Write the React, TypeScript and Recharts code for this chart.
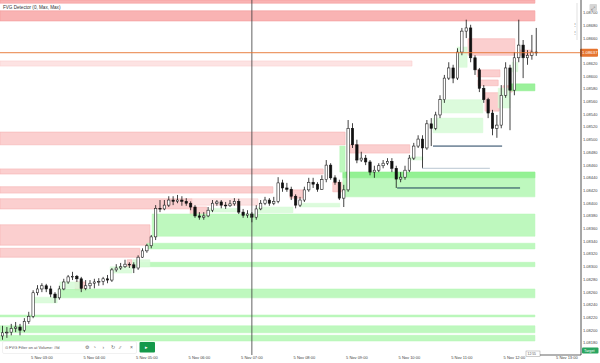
import React from 'react';
import { ComposedChart, Bar, XAxis, YAxis, ReferenceArea, ReferenceLine } from 'recharts';

// ---- candle data (5-minute bars, EUR/USD-like) ----
const opens = [
  1.08191, 1.08196, 1.08197, 1.08203, 1.08205, 1.082, 1.08214, 1.08222, 1.08259, 1.08265,
  1.0827, 1.08265, 1.08257, 1.08251, 1.08265, 1.08276, 1.08284, 1.08285, 1.08281, 1.08266,
  1.0827, 1.08274, 1.08276, 1.08277, 1.08281, 1.08279, 1.08295, 1.08298, 1.083, 1.08304,
  1.08303, 1.08298, 1.08315, 1.08325, 1.08333, 1.08347, 1.08392, 1.08391, 1.08397, 1.08405,
  1.08403, 1.08405, 1.08403, 1.084, 1.08394, 1.0838, 1.08378, 1.0838, 1.08389, 1.084,
  1.08402, 1.08397, 1.08396, 1.08399, 1.08403, 1.08386, 1.08381, 1.08383, 1.08378, 1.08391,
  1.084, 1.08405, 1.084, 1.08403, 1.08432, 1.08424, 1.08422, 1.08411, 1.08397, 1.08405,
  1.08421, 1.08433, 1.0843, 1.08422, 1.08437, 1.0846, 1.0844, 1.08433, 1.08408, 1.08421,
  1.08518, 1.08492, 1.08468, 1.08471, 1.08465, 1.08449, 1.08452, 1.08459, 1.08463, 1.08466,
  1.08455, 1.08438, 1.08441, 1.08452, 1.08471, 1.0849, 1.08501, 1.08487, 1.08525, 1.08518,
  1.08539, 1.08563, 1.08597, 1.08613, 1.08597, 1.08638, 1.08671, 1.08676, 1.08629, 1.0861,
  1.08581, 1.08563, 1.08542, 1.08518, 1.08523, 1.0857, 1.08613, 1.08578, 1.08629, 1.08649,
  1.08629, 1.08633, 1.08638,
];
const highs = [
  1.08207, 1.08205, 1.0821, 1.08213, 1.0821, 1.08219, 1.08229, 1.08263, 1.08271, 1.08274,
  1.08273, 1.0827, 1.0826, 1.0827, 1.08281, 1.08287, 1.08292, 1.08287, 1.08284, 1.08279,
  1.08279, 1.08281, 1.08282, 1.08284, 1.08287, 1.08298, 1.08304, 1.08306, 1.08311, 1.08307,
  1.08307, 1.08318, 1.08329, 1.08336, 1.0835, 1.08397, 1.08405, 1.08405, 1.08411, 1.08411,
  1.08413, 1.08411, 1.08408, 1.08403, 1.08397, 1.08386, 1.08386, 1.08394, 1.08405, 1.08405,
  1.08405, 1.08402, 1.08405, 1.08408, 1.08407, 1.08391, 1.08389, 1.08386, 1.08397, 1.08405,
  1.0841, 1.08408, 1.0841, 1.08441, 1.08437, 1.08432, 1.08426, 1.08414, 1.0841, 1.08426,
  1.0844, 1.0844, 1.08433, 1.08444, 1.08468, 1.08463, 1.08444, 1.08437, 1.08429, 1.08531,
  1.08526, 1.085, 1.08481, 1.08476, 1.08468, 1.08459, 1.08463, 1.08468, 1.08471, 1.08471,
  1.08459, 1.08449, 1.08459, 1.08476, 1.08495, 1.08507, 1.08507, 1.08531, 1.08534, 1.08544,
  1.0857, 1.08602, 1.08622, 1.08618, 1.08644, 1.08676, 1.08689, 1.08681, 1.08633, 1.08613,
  1.08586, 1.08566, 1.08547, 1.08539, 1.08586, 1.08622, 1.08618, 1.08638, 1.08689, 1.08657,
  1.08641, 1.08665, 1.08676,
];
const lows = [
  1.08185, 1.08188, 1.08192, 1.08197, 1.08192, 1.08197, 1.0821, 1.08219, 1.08255, 1.0826,
  1.0826, 1.08252, 1.08243, 1.08248, 1.08263, 1.08273, 1.08279, 1.08276, 1.0826, 1.08263,
  1.08265, 1.08266, 1.0827, 1.08271, 1.08274, 1.08276, 1.08292, 1.08295, 1.08298, 1.08298,
  1.0829, 1.08295, 1.08314, 1.08322, 1.08329, 1.08342, 1.08386, 1.08389, 1.08394, 1.08397,
  1.084, 1.08396, 1.08396, 1.08389, 1.08377, 1.08374, 1.08374, 1.08378, 1.08386, 1.08396,
  1.08392, 1.08391, 1.08394, 1.08396, 1.08383, 1.08377, 1.08377, 1.0837, 1.08374, 1.08389,
  1.08397, 1.08396, 1.08397, 1.084, 1.08418, 1.08418, 1.08405, 1.08392, 1.08394, 1.08402,
  1.08418, 1.08424, 1.08418, 1.08421, 1.08433, 1.08437, 1.08429, 1.08405, 1.08394, 1.08418,
  1.08487, 1.08463, 1.08465, 1.0846, 1.08444, 1.0844, 1.08449, 1.08455, 1.0846, 1.08449,
  1.08424, 1.08433, 1.08437, 1.08449, 1.08468, 1.08487, 1.08455, 1.08484, 1.0849, 1.08515,
  1.08534, 1.08558, 1.08594, 1.08589, 1.08594, 1.08633, 1.0866, 1.08622, 1.08602, 1.08575,
  1.08558, 1.08534, 1.08507, 1.08503, 1.08518, 1.08566, 1.08515, 1.0857, 1.08622, 1.08597,
  1.08618, 1.08626, 1.08632,
];
const closes = [
  1.08196, 1.08197, 1.08203, 1.08205, 1.082, 1.08214, 1.08222, 1.08259, 1.08265, 1.0827,
  1.08265, 1.08257, 1.08251, 1.08265, 1.08276, 1.08284, 1.08285, 1.08281, 1.08266, 1.0827,
  1.08274, 1.08276, 1.08277, 1.08281, 1.08279, 1.08295, 1.08298, 1.083, 1.08304, 1.08303,
  1.08298, 1.08315, 1.08325, 1.08333, 1.08347, 1.08392, 1.08391, 1.08397, 1.08405, 1.08403,
  1.08405, 1.08403, 1.084, 1.08394, 1.0838, 1.08378, 1.0838, 1.08389, 1.084, 1.08402,
  1.08397, 1.08396, 1.08399, 1.08403, 1.08386, 1.08381, 1.08383, 1.08378, 1.08391, 1.084,
  1.08405, 1.084, 1.08403, 1.08432, 1.08424, 1.08422, 1.08411, 1.08397, 1.08405, 1.08421,
  1.08433, 1.0843, 1.08422, 1.08437, 1.0846, 1.0844, 1.08433, 1.08408, 1.08421, 1.08518,
  1.08492, 1.08468, 1.08471, 1.08465, 1.08449, 1.08452, 1.08459, 1.08463, 1.08466, 1.08455,
  1.08438, 1.08441, 1.08452, 1.08471, 1.0849, 1.08501, 1.08487, 1.08525, 1.08518, 1.08539,
  1.08563, 1.08597, 1.08613, 1.08597, 1.08638, 1.08671, 1.08676, 1.08629, 1.0861, 1.08581,
  1.08563, 1.08542, 1.08518, 1.08523, 1.0857, 1.08613, 1.08578, 1.08629, 1.08649, 1.08629,
  1.08633, 1.08638, 1.08637,
];

// ---- axes ----
const timeTicks = [9, 21, 33, 45, 57, 69, 81, 93, 105, 117, 129];
const timeLabels = [
  '5 Nov 03:00', '5 Nov 04:00', '5 Nov 05:00', '5 Nov 06:00', '5 Nov 07:00', '5 Nov 08:00',
  '5 Nov 09:00', '5 Nov 10:00', '5 Nov 11:00', '5 Nov 12:00', '5 Nov 13:00',
];
const priceTicks = [
  1.087, 1.0868, 1.0866, 1.0862, 1.086, 1.0858, 1.0856, 1.0854, 1.0852, 1.085, 1.0848, 1.0846,
  1.0844, 1.0842, 1.084, 1.0838, 1.0836, 1.0834, 1.0832, 1.083, 1.0828, 1.0826, 1.0824, 1.0822,
  1.082, 1.0818,
];
const crosshairBar = 57;

// ---- FVG zones (candle index from/to, price top/bottom) ----
type Kind = 'strong' | 'normal' | 'faint';
type Zone = { from: number; to: number; top: number; bottom: number; kind: Kind };
const bearZones: Zone[] = [
  { from: -0.57, to: 121.7, top: 1.0872, bottom: 1.08715, kind: 'strong' },
  { from: -0.57, to: 121.7, top: 1.08703, bottom: 1.08687, kind: 'strong' },
  { from: -0.57, to: 93.6, top: 1.08624, bottom: 1.08616, kind: 'faint' },
  { from: -0.57, to: 78.3, top: 1.08512, bottom: 1.08492, kind: 'normal' },
  { from: 79.4, to: 93.1, top: 1.08492, bottom: 1.08479, kind: 'normal' },
  { from: -0.57, to: 73.3, top: 1.08454, bottom: 1.08446, kind: 'normal' },
  { from: -0.57, to: 61.8, top: 1.08426, bottom: 1.08416, kind: 'normal' },
  { from: 65.7, to: 68.7, top: 1.08421, bottom: 1.08408, kind: 'normal' },
  { from: -0.57, to: 43.3, top: 1.08407, bottom: 1.08391, kind: 'normal' },
  { from: 43.3, to: 58.4, top: 1.08407, bottom: 1.08397, kind: 'faint' },
  { from: -0.57, to: 33.7, top: 1.08366, bottom: 1.08334, kind: 'normal' },
  { from: -0.57, to: 31.4, top: 1.08329, bottom: 1.08315, kind: 'normal' },
  { from: 75.5, to: 77.6, top: 1.08433, bottom: 1.08418, kind: 'normal' },
  { from: 42.9, to: 46.7, top: 1.08394, bottom: 1.08381, kind: 'normal' },
  { from: 106.4, to: 117.1, top: 1.08659, bottom: 1.08633, kind: 'normal' },
  { from: 117.8, to: 121.0, top: 1.08641, bottom: 1.08633, kind: 'normal' },
  { from: 108.5, to: 113.7, top: 1.0861, bottom: 1.08599, kind: 'normal' },
  { from: 108.7, to: 113.3, top: 1.08594, bottom: 1.08585, kind: 'normal' },
  { from: 110.3, to: 113.5, top: 1.08574, bottom: 1.08545, kind: 'normal' },
  { from: 114.4, to: 116.5, top: 1.08585, bottom: 1.08575, kind: 'normal' },
  { from: 16.6, to: 18.9, top: 1.08276, bottom: 1.08263, kind: 'normal' },
  { from: 28.5, to: 29.6, top: 1.08311, bottom: 1.083, kind: 'normal' },
];
const bullZones: Zone[] = [
  { from: 34.2, to: 121.7, top: 1.08383, bottom: 1.08348, kind: 'normal' },
  { from: 33.0, to: 121.7, top: 1.08337, bottom: 1.08328, kind: 'normal' },
  { from: 29.8, to: 121.7, top: 1.08307, bottom: 1.083, kind: 'normal' },
  { from: 12.7, to: 121.7, top: 1.08265, bottom: 1.08251, kind: 'normal' },
  { from: 7.0, to: 12.5, top: 1.08252, bottom: 1.08243, kind: 'faint' },
  { from: -0.57, to: 121.7, top: 1.08224, bottom: 1.08221, kind: 'normal' },
  { from: -0.57, to: 121.7, top: 1.08207, bottom: 1.08196, kind: 'normal' },
  { from: -0.57, to: 121.7, top: 1.08192, bottom: 1.08183, kind: 'normal' },
  { from: 24.6, to: 29.6, top: 1.083, bottom: 1.0829, kind: 'faint' },
  { from: 13.1, to: 17.7, top: 1.08276, bottom: 1.08266, kind: 'faint' },
  { from: 77.8, to: 121.7, top: 1.08449, bottom: 1.0841, kind: 'normal' },
  { from: 77.8, to: 121.7, top: 1.08449, bottom: 1.0844, kind: 'strong' },
  { from: 77.1, to: 78.3, top: 1.0849, bottom: 1.08449, kind: 'normal' },
  { from: 47.4, to: 53.6, top: 1.08392, bottom: 1.08386, kind: 'faint' },
  { from: 58.4, to: 66.4, top: 1.08394, bottom: 1.08385, kind: 'faint' },
  { from: 68.0, to: 77.1, top: 1.084, bottom: 1.08394, kind: 'faint' },
  { from: 93.1, to: 96.1, top: 1.08473, bottom: 1.08468, kind: 'faint' },
  { from: 98.4, to: 109.8, top: 1.08534, bottom: 1.08511, kind: 'faint' },
  { from: 100.0, to: 109.8, top: 1.08563, bottom: 1.08542, kind: 'faint' },
  { from: 103.9, to: 106.2, top: 1.08646, bottom: 1.08614, kind: 'faint' },
  { from: 116.5, to: 117.8, top: 1.08622, bottom: 1.08607, kind: 'faint' },
  { from: 116.0, to: 121.7, top: 1.08588, bottom: 1.08577, kind: 'strong' },
  { from: 113.3, to: 116.0, top: 1.08581, bottom: 1.0855, kind: 'faint' },
  { from: 29.8, to: 33.7, top: 1.08311, bottom: 1.083, kind: 'faint' },
];
type Level = { from: number; to: number; price: number; kind: 'dark' | 'light' };
const levels: Level[] = [
  { from: 98.4, to: 114.2, price: 1.0849, kind: 'dark' },
  { from: 95.9, to: 111.4, price: 1.08455, kind: 'light' },
  { from: 90.2, to: 118.3, price: 1.08424, kind: 'dark' },
];

const BEAR_STYLE: Record<Kind, { fill: string; stroke: string }> = {
  strong: { fill: '#f8abab', stroke: '#f59c9c' },
  normal: { fill: '#fbcaca', stroke: '#f6b4b4' },
  faint: { fill: '#fde0e0', stroke: '#fbd0d0' },
};
const BULL_STYLE: Record<Kind, { fill: string; stroke: string }> = {
  strong: { fill: '#8def8d', stroke: '#8def8d' },
  normal: { fill: '#b5f7b5', stroke: '#b5f7b5' },
  faint: { fill: '#d7fbd7', stroke: '#d7fbd7' },
};

const data = opens.map((o, i) => ({
  i,
  open: o,
  high: highs[i],
  low: lows[i],
  close: closes[i],
  range: [lows[i], highs[i]],
}));
const lastPrice = closes[closes.length - 1];

const FONT = 'Liberation Sans, Arial, sans-serif';

const Candle = (props: any) => {
  const { x, y, width, height, payload } = props;
  if (x == null || y == null || !payload) return null;
  const cx = x + width / 2;
  const yTop = Math.min(y, y + height);
  const h = Math.abs(height);
  const span = payload.high - payload.low;
  const py = (v: number) => (span === 0 ? yTop : yTop + ((payload.high - v) / span) * h);
  const up = payload.close >= payload.open;
  const bTop = py(Math.max(payload.open, payload.close));
  const bBot = py(Math.min(payload.open, payload.close));
  return (
    <g>
      <line x1={cx} x2={cx} y1={yTop} y2={yTop + h} stroke="#111" strokeWidth={0.8} />
      <rect
        x={cx - 1.2}
        y={bTop}
        width={2.4}
        height={Math.max(0.8, bBot - bTop)}
        fill={up ? '#ffffff' : '#111111'}
        stroke="#111"
        strokeWidth={0.55}
      />
    </g>
  );
};

const PriceTag = (props: any) => {
  const vb = props.viewBox || {};
  const right = (vb.x || 0) + (vb.width || 0);
  const yy = vb.y || 0;
  return (
    <g>
      <rect x={right - 1} y={yy - 4} width={18} height={8} rx={1} fill="#e6742f" />
      <text x={right + 1} y={yy + 1.6} fontSize={4.3} fill="#fff" fontFamily={FONT}>
        {lastPrice.toFixed(5)}
      </text>
    </g>
  );
};

export default function App() {
  return (
    <div style={{ position: 'absolute', left: 0, top: 0, width: 600, height: 363, background: '#fff' }}>
      <ComposedChart width={600} height={363} data={data} margin={{ top: 0, right: 0, bottom: 0, left: 0 }}>
        <XAxis
          dataKey="i"
          type="number"
          domain={[-0.5714, 132.23]}
          allowDataOverflow
          ticks={timeTicks}
          interval={0}
          height={8}
          tickLine={false}
          axisLine={false}
          tickSize={1}
          tickMargin={0}
          tick={{ fontSize: 4, fill: '#444', fontFamily: FONT }}
          tickFormatter={(v: number) => timeLabels[timeTicks.indexOf(v)] ?? ''}
        />
        <YAxis
          orientation="right"
          type="number"
          width={19}
          domain={[1.08161, 1.0872]}
          allowDataOverflow
          ticks={priceTicks}
          interval={0}
          tickLine={false}
          tickSize={2}
          tickMargin={0}
          axisLine={{ stroke: '#222', strokeWidth: 0.8 }}
          tick={{ fontSize: 4, fill: '#444', fontFamily: FONT, textAnchor: 'start' }}
          tickFormatter={(v: number) => v.toFixed(5)}
        />
        {bearZones.map((z, k) => (
          <ReferenceArea
            key={'b' + k}
            x1={z.from}
            x2={z.to}
            y1={z.bottom}
            y2={z.top}
            fill={BEAR_STYLE[z.kind].fill}
            fillOpacity={0.9}
            stroke={BEAR_STYLE[z.kind].stroke}
            strokeWidth={0.6}
            ifOverflow="extendDomain"
          />
        ))}
        {bullZones.map((z, k) => (
          <ReferenceArea
            key={'g' + k}
            x1={z.from}
            x2={z.to}
            y1={z.bottom}
            y2={z.top}
            fill={BULL_STYLE[z.kind].fill}
            fillOpacity={0.88}
            stroke={BULL_STYLE[z.kind].stroke}
            strokeWidth={0.5}
            ifOverflow="extendDomain"
          />
        ))}
        {levels.map((l, k) => (
          <ReferenceLine
            key={'l' + k}
            segment={[{ x: l.from, y: l.price }, { x: l.to, y: l.price }]}
            stroke={l.kind === 'dark' ? '#1f3f5c' : '#b9c6d2'}
            strokeWidth={1}
          />
        ))}
        <ReferenceLine x={crosshairBar} stroke="#3a3a3a" strokeWidth={0.8} />
        <Bar dataKey="range" barSize={2.4} shape={<Candle />} isAnimationActive={false} />
        <ReferenceLine y={lastPrice} stroke="#e6742f" strokeWidth={0.9} label={(p: any) => <PriceTag {...p} />} />
      </ComposedChart>
      <svg
        width={600}
        height={363}
        style={{ position: 'absolute', left: 0, top: 0, pointerEvents: 'none' }}
        fontFamily={FONT}
      >
        <text x={3} y={8.6} fontSize={4.6} fill="#333">FVG Detector (0, Max, Max)</text>
        <rect x={589.5} y={4} width={7.5} height={7} rx={1} fill="#d6d6d6" />
        <text x={590.6} y={9.6} fontSize={5} fill="#555">⤢</text>
        <line x1={577} x2={577} y1={3} y2={40} stroke="#cfcfcf" strokeWidth={0.6} />
        <text x={573} y={26} fontSize={3.5} fill="#777">⋮</text>
        <text x={573} y={34} fontSize={3.5} fill="#777">⋮</text>
        <rect x={2.5} y={341.5} width={134} height={12} rx={1.5} fill="#ffffff" fillOpacity={0.92} stroke="#e3e3e3" strokeWidth={0.5} />
        <text x={5} y={349} fontSize={4} fill="#555">⊙ FVG Filter on at Volume: #fd</text>
        <text x={84.5} y={349.3} fontSize={5} fill="#666">⚙</text>
        <text x={93} y={349.3} fontSize={5} fill="#666">◔</text>
        <text x={102.5} y={349.3} fontSize={5} fill="#666">›</text>
        <text x={111} y={349.3} fontSize={5} fill="#666">↻</text>
        <text x={119.5} y={349.3} fontSize={4.2} fill="#666">⁄⁄</text>
        <text x={130} y={349.3} fontSize={5} fill="#666">×</text>
        <rect x={139.5} y={342} width={15.5} height={10.5} rx={1} fill="#14994a" />
        <text x={145.3} y={349.2} fontSize={4.6} fill="#fff">▸</text>
        <rect x={526} y={351} width={14} height={5.5} fill="#fff" stroke="#9a9a9a" strokeWidth={0.5} />
        <text x={527.5} y={355.2} fontSize={3.4} fill="#555">12:55</text>
        <line x1={540} x2={581} y1={355} y2={355} stroke="#222" strokeWidth={0.7} />
        <rect x={582} y={347.5} width={16.5} height={6} rx={1} fill="#2aa560" />
        <text x={584} y={352.2} fontSize={3.8} fill="#fff">Target</text>
      </svg>
    </div>
  );
}
